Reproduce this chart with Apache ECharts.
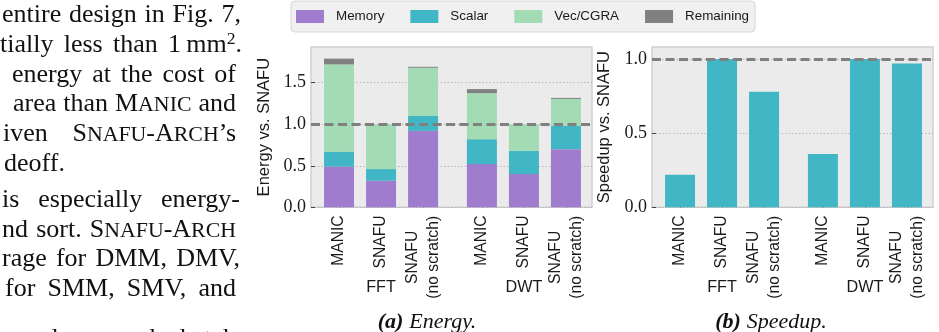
<!DOCTYPE html>
<html>
<head>
<meta charset="utf-8">
<script src="https://cdn.jsdelivr.net/npm/echarts@6/dist/echarts.min.js"></script>
<style>
  html, body { margin: 0; padding: 0; background: #ffffff; }
  #chart { position: absolute; left: 0; top: 0; width: 939px; height: 332px; }
  #paper { position: absolute; left: 0; top: 0; width: 250px; height: 332px; overflow: hidden; pointer-events: none;
           font-family: "Liberation Serif", "Times New Roman", serif; font-size: 26px; color: #111; }
  #paper div { position: absolute; white-space: nowrap; line-height: 1; }
  .sc { font-size: 0.84em; text-transform: uppercase; }
  sup { font-size: 0.68em; vertical-align: 0.45em; line-height: 0; }
</style>
</head>
<body>
<div id="chart"></div>
<div id="paper"></div>
<script>
// ---------------- data ----------------
const categories = ['MANIC', 'SNAFU', 'SNAFU\n(no scratch)', 'MANIC', 'SNAFU', 'SNAFU\n(no scratch)'];
const positions = [0, 1, 2, 3.4, 4.4, 5.4];
const groupNames = ['FFT', 'DWT'];
const groupPositions = [1, 4.4];
const seriesNames = ['Memory', 'Scalar', 'Vec/CGRA', 'Remaining'];
const memory    = [0.49, 0.32, 0.92, 0.52, 0.40, 0.70];
const scalar    = [0.18, 0.14, 0.18, 0.30, 0.28, 0.28];
const vecCgra   = [1.05, 0.54, 0.58, 0.555, 0.32, 0.325];
const remaining = [0.07, 0.0, 0.012, 0.048, 0.0, 0.012];
const speedup   = [0.22, 1.0, 0.78, 0.36, 1.0, 0.97];
const energyTicks  = [0, 0.5, 1.0, 1.5];
const speedupTicks = [0, 0.5, 1.0];
const referenceLevel = 1.0;

// ---------------- paper text (left column) ----------------
const paperLines = [
  { html: 'entire design in Fig. 7,', x: 2, r: 241, base: 23 },
  { html: 'tially less than 1&#8239;mm<sup>2</sup>.', x: 0, r: 242, base: 53 },
  { html: 'energy at the cost of', x: 12, r: 236, base: 83 },
  { html: 'area than M<span class="sc">anic</span> and', x: 13, r: 236, base: 112 },
  { html: 'iven S<span class="sc">nafu</span>-A<span class="sc">rch</span>’s', x: 3, r: 236, base: 142 },
  { html: 'deoff.', x: 4, r: null, base: 172 },
  { html: 'is especially energy-', x: 2, r: 240, base: 208 },
  { html: 'nd sort. S<span class="sc">nafu</span>-A<span class="sc">rch</span>', x: 2, r: 236, base: 238 },
  { html: 'rage for DMM, DMV,', x: 2, r: 240, base: 267 },
  { html: 'for SMM, SMV, and', x: 5, r: 236, base: 297 },
  { html: 'on dense and sketch', x: 5, r: 236, base: 347 }
];
(function () {
  const host = document.getElementById('paper');
  const fs = 26;
  paperLines.forEach(function (ln) {
    const d = document.createElement('div');
    d.innerHTML = ln.html;
    d.style.left = ln.x + 'px';
    d.style.top = (ln.base - 0.8375 * fs) + 'px';
    host.appendChild(d);
    if (ln.r != null) {
      const w = d.getBoundingClientRect().width;
      const spaces = (d.textContent.match(/ /g) || []).length;
      if (spaces > 0) d.style.wordSpacing = ((ln.r - ln.x - w) / spaces) + 'px';
    }
  });
})();

// ---------------- chart ----------------
const SANS = '"Liberation Sans", Arial, sans-serif';
const SERIF = '"Liberation Serif", "Times New Roman", serif';
const colors = { Memory: '#a07ccf', Scalar: '#41b6c4', 'Vec/CGRA': '#a3dbb4', Remaining: '#808080' };
const TXT = '#1a1a1a';

function labelFor(v) {
  for (let i = 0; i < positions.length; i++) {
    if (Math.abs(positions[i] - v) < 1e-6) {
      const c = categories[i];
      if (c.indexOf('\n') >= 0) {
        return c.split('\n').map(function (s) { return '{c|' + s + '}'; }).join('\n');
      }
      return c;
    }
  }
  return '';
}
function groupFor(v) {
  for (let i = 0; i < groupPositions.length; i++) {
    if (Math.abs(groupPositions[i] - v) < 1e-6) return groupNames[i];
  }
  return '';
}

const xMin = -0.667, xMax = 6.02;

function primaryX(gi) {
  return {
    type: 'value', gridIndex: gi, min: xMin, max: xMax, position: 'bottom',
    axisLine: { show: false, onZero: false },
    splitLine: { show: false },
    axisTick: { show: true, inside: true, length: 3, customValues: positions, lineStyle: { color: '#333', width: 1 } },
    axisLabel: {
      customValues: positions, rotate: 90, margin: 8, formatter: labelFor,
      fontFamily: SANS, fontSize: 15.7, color: TXT, lineHeight: 21,
      rich: { c: { width: 84, align: 'center', fontFamily: SANS, fontSize: 15.7, color: TXT, lineHeight: 21 } }
    }
  };
}
function groupX(gi) {
  return {
    type: 'value', gridIndex: gi, min: xMin, max: xMax, position: 'bottom',
    axisLine: { show: false, onZero: false }, axisTick: { show: false }, splitLine: { show: false },
    axisLabel: { customValues: groupPositions, formatter: groupFor, margin: 72, fontFamily: SANS, fontSize: 16.2, color: TXT }
  };
}
function yAx(gi, max, ticks, name, gap) {
  return {
    type: 'value', gridIndex: gi, min: 0, max: max, position: 'left',
    name: name, nameLocation: 'middle', nameGap: gap,
    nameTextStyle: { fontFamily: SANS, fontSize: 16.5, color: TXT },
    axisLine: { show: false, onZero: false },
    axisTick: { show: true, inside: true, length: 4, customValues: ticks, lineStyle: { color: '#444', width: 1 } },
    axisLabel: { customValues: ticks, margin: 5, fontFamily: SERIF, fontSize: 18, color: TXT,
                 formatter: function (v) { return v.toFixed(1); } },
    splitLine: { show: true, customValues: ticks, lineStyle: { type: [1.5, 2], color: '#b8b8b8', width: 1 } }
  };
}

// rows are [value, position]; encode maps position -> x and value -> y
function rows(vals) { return vals.map(function (v, i) { return [v, positions[i]]; }); }

const refLine = {
  silent: true, symbol: ['none', 'none'], animation: false, label: { show: false },
  lineStyle: { color: '#808080', type: [9, 4.5], width: 2.8 },
  data: [{ yAxis: referenceLevel }]
};

const energyValues = [memory, scalar, vecCgra, remaining];
const energySeries = seriesNames.map(function (n, k) {
  const s = {
    name: n, type: 'bar', stack: 'energy', xAxisIndex: 0, yAxisIndex: 0,
    barWidth: 30, data: rows(energyValues[k]), encode: { x: 1, y: 0 },
    itemStyle: { color: colors[n] }, emphasis: { disabled: true }
  };
  if (k === energyValues.length - 1) s.markLine = refLine;
  return s;
});

const option = {
  animation: false,
  legend: {
    data: seriesNames, left: 291, top: 1, orient: 'horizontal',
    icon: 'rect', itemWidth: 28, itemHeight: 13, itemGap: 26,
    padding: [9, 6, 9, 5],
    backgroundColor: '#f0f0f0', borderColor: '#d6d6d6', borderWidth: 1, borderRadius: 4,
    textStyle: { fontFamily: SANS, fontSize: 13.4, color: TXT, padding: [0, 0, 0, 7] },
    selectedMode: false
  },
  grid: [
    { left: 311, right: 347, top: 47, bottom: 124.7, show: true, backgroundColor: '#ebebeb', borderColor: '#cfcfcf', borderWidth: 1.5, containLabel: false },
    { left: 652, right: 6, top: 47, bottom: 124.7, show: true, backgroundColor: '#ebebeb', borderColor: '#cfcfcf', borderWidth: 1.5, containLabel: false }
  ],
  xAxis: [primaryX(0), groupX(0), primaryX(1), groupX(1)],
  yAxis: [
    yAx(0, 1.93, energyTicks, 'Energy vs. SNAFU', 38),
    yAx(1, 1.081, speedupTicks, 'Speedup vs. SNAFU', 39)
  ],
  series: energySeries.concat([
    {
      name: 'Speedup', type: 'bar', xAxisIndex: 2, yAxisIndex: 1, barWidth: 30,
      data: rows(speedup), encode: { x: 1, y: 0 },
      itemStyle: { color: colors.Scalar }, emphasis: { disabled: true },
      markLine: refLine
    }
  ]),
  graphic: [
    {
      type: 'text', x: 427, y: 322, silent: true,
      style: {
        text: '{b|(a)}\u2002{i|Energy.}', align: 'center', verticalAlign: 'middle',
        rich: {
          b: { fontFamily: SERIF, fontSize: 22, fontStyle: 'italic', fontWeight: 'bold', fill: '#111' },
          i: { fontFamily: SERIF, fontSize: 22, fontStyle: 'italic', fill: '#111' }
        }
      }
    },
    {
      type: 'text', x: 771, y: 322, silent: true,
      style: {
        text: '{b|(b)}\u2002{i|Speedup.}', align: 'center', verticalAlign: 'middle',
        rich: {
          b: { fontFamily: SERIF, fontSize: 22, fontStyle: 'italic', fontWeight: 'bold', fill: '#111' },
          i: { fontFamily: SERIF, fontSize: 22, fontStyle: 'italic', fill: '#111' }
        }
      }
    }
  ]
};

const chart = echarts.init(document.getElementById('chart'), null, { renderer: 'canvas' });
chart.setOption(option);
</script>
</body>
</html>
